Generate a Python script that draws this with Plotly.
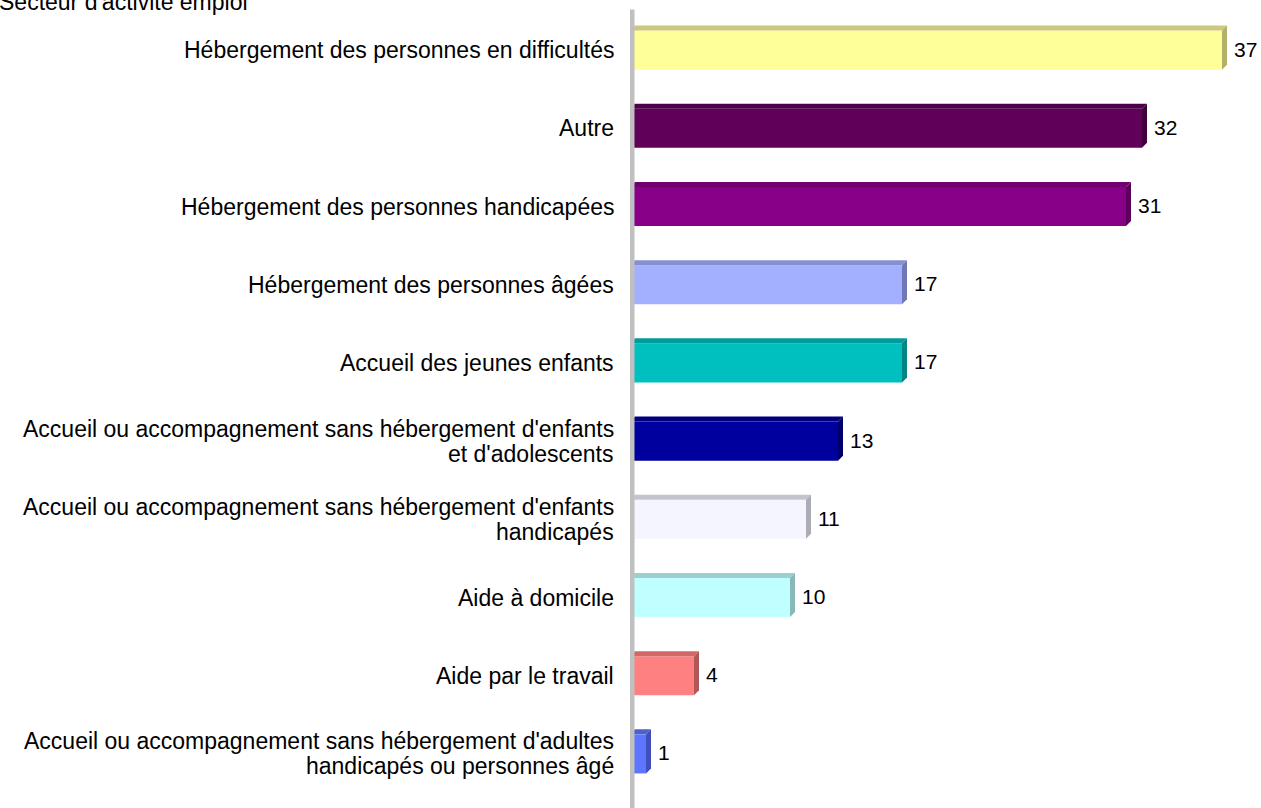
import plotly.graph_objects as go

categories = [
    "Hébergement des personnes en difficultés",
    "Autre",
    "Hébergement des personnes handicapées",
    "Hébergement des personnes âgées",
    "Accueil des jeunes enfants",
    "Accueil ou accompagnement sans hébergement d'enfants<br>et d'adolescents",
    "Accueil ou accompagnement sans hébergement d'enfants<br>handicapés",
    "Aide à domicile",
    "Aide par le travail",
    "Accueil ou accompagnement sans hébergement d'adultes<br>handicapés ou personnes âgé",
]
values = [37, 32, 31, 17, 17, 13, 11, 10, 4, 1]
front_colors = ["#FFFF99", "#600058", "#880088", "#A3AFFF", "#00BFBF",
                "#00009F", "#F5F5FF", "#BFFFFF", "#FF8080", "#5E76FF"]
top_colors = ["#CCC880", "#50004A", "#700070", "#8590D0", "#009C9C",
              "#000080", "#C4C4CC", "#9CD0D0", "#D06868", "#4C60D0"]
side_colors = ["#B4B06C", "#40003C", "#5C005C", "#7078B8", "#008484",
               "#00006C", "#ACACB4", "#88B8B8", "#B05858", "#4050B8"]
title_text = "Secteur d'activité emploi"

W, H = 1261, 808
ml, mr, mt, mb = 630, 0, 11, 15
pw = W - ml - mr
ph = H - mt - mb
px_per_unit = 16.0
xmax = pw / px_per_unit
n = len(categories)
bar_w = 0.5
dx = 5 / px_per_unit
dy = 5 / (ph / n)
label_size = 23
line_gap = 25

ys = list(range(n))

fig = go.Figure()
fig.add_trace(go.Bar(
    y=ys, x=values, orientation="h", width=bar_w,
    marker=dict(color=front_colors, line=dict(width=0)),
    hoverinfo="skip", showlegend=False,
))

shapes = []
for i, v in enumerate(values):
    yt = i - bar_w / 2
    yb = i + bar_w / 2
    shapes.append(dict(
        type="path", xref="x", yref="y", layer="above",
        path=f"M 0 {yt} L {dx} {yt - dy} L {v + dx} {yt - dy} L {v} {yt} Z",
        fillcolor=top_colors[i], line=dict(width=0),
    ))
    shapes.append(dict(
        type="path", xref="x", yref="y", layer="above",
        path=f"M {v} {yt} L {v + dx} {yt - dy} L {v + dx} {yb - dy} L {v} {yb} Z",
        fillcolor=side_colors[i], line=dict(width=0),
    ))

shapes.append(dict(type="line", xref="x", yref="paper", x0=2 / px_per_unit, x1=2 / px_per_unit,
                   y0=-0.03, y1=1.002, line=dict(color="#C0C0C0", width=5), layer="above"))

annotations = []
for i, v in enumerate(values):
    annotations.append(dict(
        x=v + dx, y=i, xref="x", yref="y", text=str(v), showarrow=False,
        xanchor="left", xshift=5, yshift=1, font=dict(size=21, color="#000000"),
    ))
for i, cat in enumerate(categories):
    lines = cat.split("<br>")
    k = len(lines)
    for j, line in enumerate(lines):
        annotations.append(dict(
            x=0, y=i, xref="paper", yref="y", text=line, showarrow=False,
            xanchor="right", yanchor="middle", xshift=-14,
            yshift=-(j - (k - 1) / 2) * line_gap,
            font=dict(size=label_size, color="#000000"),
        ))
annotations.append(dict(
    x=0, y=1, xref="paper", yref="paper", text=title_text, showarrow=False,
    xanchor="left", yanchor="middle", xshift=-ml - 3, yshift=9,
    font=dict(size=label_size, color="#000000"),
))

fig.update_layout(
    width=W, height=H,
    margin=dict(l=ml, r=mr, t=mt, b=mb),
    paper_bgcolor="white", plot_bgcolor="white",
    font=dict(family="Arial, Liberation Sans, sans-serif", size=18, color="#000000"),
    xaxis=dict(range=[0, xmax], visible=False, fixedrange=True),
    yaxis=dict(
        tickmode="array", tickvals=ys, ticktext=[""] * n,
        range=[n - 0.5, -0.5], showgrid=False, zeroline=False, showline=False,
        ticks="", showticklabels=False, fixedrange=True,
    ),
    shapes=shapes, annotations=annotations, bargap=0.5,
)

fig.write_html("out.html", config={"displayModeBar": False},
               post_script="document.body.style.margin='0';")
